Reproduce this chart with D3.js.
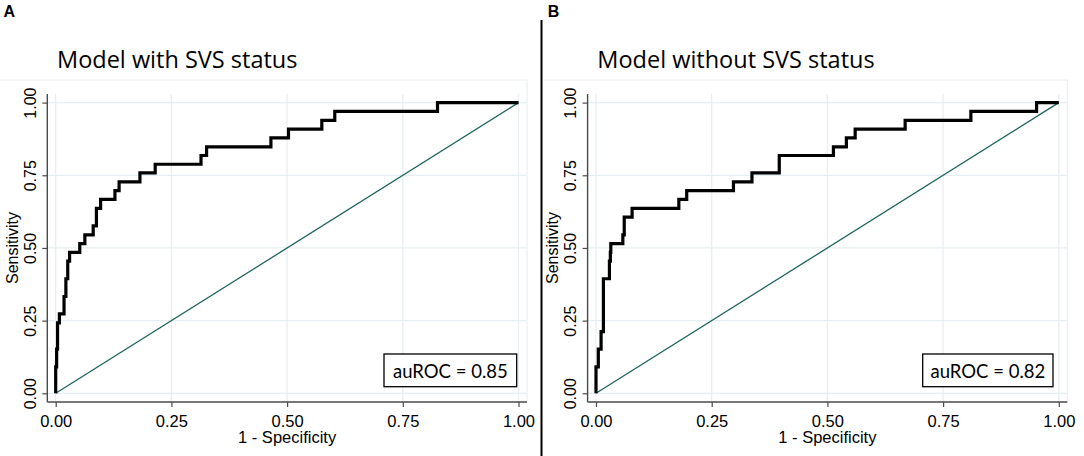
<!DOCTYPE html>
<html>
<head>
<meta charset="utf-8">
<script src="https://cdn.jsdelivr.net/npm/d3@7"></script>
<style>
  html, body { margin: 0; padding: 0; background: #fff; }
  svg { display: block; }
</style>
</head>
<body>
<svg id="chart" width="1084" height="456"></svg>
<script>
// ---- Data ----
const panelLetters = ["A", "B"];
const panelTitles = ["Model with SVS status", "Model without SVS status"];
const aucLabels = ["auROC = 0.85", "auROC = 0.82"];
const tickValues = [0, 0.25, 0.5, 0.75, 1];
const tickLabels = ["0.00", "0.25", "0.50", "0.75", "1.00"];
const xAxisTitle = "1 - Specificity";
const yAxisTitle = "Sensitivity";

// ROC corner points (1 - specificity, sensitivity), drawn as steps
const rocA_fpr = [0, 0, 0.002, 0.004, 0.008, 0.018, 0.022, 0.026, 0.030, 0.052, 0.063, 0.081, 0.088, 0.097, 0.128, 0.137, 0.182, 0.215, 0.314, 0.326, 0.465, 0.503, 0.575, 0.603, 0.825, 1];
const rocA_tpr = [0, 0.091, 0.152, 0.242, 0.273, 0.333, 0.394, 0.455, 0.485, 0.515, 0.545, 0.576, 0.636, 0.667, 0.697, 0.727, 0.758, 0.788, 0.818, 0.848, 0.879, 0.909, 0.939, 0.970, 1, 1];
const rocB_fpr = [0, 0, 0.005, 0.011, 0.016, 0.029, 0.031, 0.032, 0.058, 0.061, 0.078, 0.179, 0.196, 0.297, 0.337, 0.396, 0.513, 0.541, 0.560, 0.668, 0.810, 0.952, 1];
const rocB_tpr = [0, 0.091, 0.152, 0.212, 0.394, 0.455, 0.485, 0.515, 0.545, 0.606, 0.636, 0.667, 0.697, 0.727, 0.758, 0.818, 0.848, 0.879, 0.909, 0.939, 0.970, 1, 1];
const refLine = [[0, 0], [1, 1]];

const rocSeries = [
  rocA_fpr.map((f, i) => [f, rocA_tpr[i]]),
  rocB_fpr.map((f, i) => [f, rocB_tpr[i]])
];

// ---- Layout ----
const svg = d3.select("#chart");
const panelOffsets = [0, 540.3];
const gridColor = "#e6eef1";
const axisColor = "#4a4a4a";
const sansFont = "'Liberation Sans', Arial, sans-serif";
const titleFont = "'Open Sans', Lato, sans-serif";
const boxFont = "Lato, 'Open Sans', sans-serif";

panelLetters.forEach((letter, p) => {
  const g = svg.append("g").attr("transform", `translate(${panelOffsets[p]},0)`);
  const x = d3.scaleLinear().domain([0, 1]).range([55.7, 518.5]);
  const y = d3.scaleLinear().domain([0, 1]).range([393.3, 102.6]);
  const axisX = 47.3, axisY = 402;
  const regionLeft = p === 0 ? 0 : 4, regionRight = 527, regionTop = 80;

  // panel letter
  g.append("text").attr("x", p === 0 ? 3.5 : 7.5).attr("y", 17)
    .attr("font-family", sansFont).attr("font-weight", "bold").attr("font-size", 16)
    .attr("fill", "#000").text(letter);

  // title
  g.append("text").attr("x", 57).attr("y", 67.5)
    .attr("font-family", titleFont).attr("font-size", 23.5).attr("fill", "#000")
    .text(panelTitles[p]);

  // plot region border (top & right)
  g.append("line").attr("x1", regionLeft).attr("x2", regionRight).attr("y1", regionTop).attr("y2", regionTop)
    .attr("stroke", gridColor).attr("stroke-width", 1);
  g.append("line").attr("x1", regionRight).attr("x2", regionRight).attr("y1", regionTop).attr("y2", axisY)
    .attr("stroke", gridColor).attr("stroke-width", 1);

  // grid
  g.append("g").selectAll("line.gx").data(tickValues).join("line")
    .attr("x1", d => x(d)).attr("x2", d => x(d)).attr("y1", 94).attr("y2", axisY)
    .attr("stroke", gridColor).attr("stroke-width", 1.2);
  g.append("g").selectAll("line.gy").data(tickValues).join("line")
    .attr("x1", axisX).attr("x2", regionRight).attr("y1", d => y(d)).attr("y2", d => y(d))
    .attr("stroke", gridColor).attr("stroke-width", 1.2);

  // axes
  const xAxis = d3.axisBottom(x).tickValues(tickValues).tickFormat((d, i) => tickLabels[i])
    .tickSize(5).tickSizeOuter(0);
  const gx = g.append("g").attr("transform", `translate(0,${axisY})`).call(xAxis);
  gx.select(".domain").remove();
  gx.attr("font-size", null).attr("font-family", null);
  gx.selectAll(".tick line").attr("stroke", axisColor).attr("stroke-width", 1.2);
  gx.selectAll(".tick text").attr("font-family", sansFont).attr("font-size", 16.5)
    .attr("fill", "#000").attr("dy", null).attr("y", 24.5);
  g.append("line").attr("x1", axisX).attr("x2", regionRight).attr("y1", axisY).attr("y2", axisY)
    .attr("stroke", axisColor).attr("stroke-width", 1.4);

  const yAxis = d3.axisLeft(y).tickValues(tickValues).tickFormat((d, i) => tickLabels[i])
    .tickSize(5).tickSizeOuter(0);
  const gy = g.append("g").attr("transform", `translate(${axisX},0)`).call(yAxis);
  gy.select(".domain").remove();
  gy.attr("font-size", null).attr("font-family", null);
  gy.selectAll(".tick line").attr("stroke", axisColor).attr("stroke-width", 1.2);
  gy.selectAll(".tick text").attr("font-family", sansFont).attr("font-size", 16)
    .attr("fill", "#000").attr("x", null).attr("dy", null)
    .attr("text-anchor", "middle")
    .attr("transform", "translate(-11.5,0) rotate(-90)");
  g.append("line").attr("x1", axisX).attr("x2", axisX).attr("y1", 94).attr("y2", axisY)
    .attr("stroke", axisColor).attr("stroke-width", 1.4);

  // axis titles
  g.append("text").attr("x", x(0.5)).attr("y", 442.5).attr("text-anchor", "middle")
    .attr("font-family", sansFont).attr("font-size", 16.5).attr("fill", "#000").text(xAxisTitle);
  g.append("text").attr("transform", `translate(17.5,${y(0.5)}) rotate(-90)`).attr("text-anchor", "middle")
    .attr("font-family", sansFont).attr("font-size", 16).attr("fill", "#000").text(yAxisTitle);

  // reference diagonal
  g.append("path").datum(refLine)
    .attr("d", d3.line().x(d => x(d[0])).y(d => y(d[1])))
    .attr("fill", "none").attr("stroke", "#1e645c").attr("stroke-width", 1.3);

  // ROC step curve
  g.append("path").datum(rocSeries[p])
    .attr("d", d3.line().x(d => x(d[0])).y(d => y(d[1])).curve(d3.curveStepAfter))
    .attr("fill", "none").attr("stroke", "#000").attr("stroke-width", 3.2)
    .attr("stroke-linejoin", "miter");

  // auROC box
  const boxW = p === 0 ? 132.7 : 130.3;
  const boxX = p === 0 ? 384 : 382.4;
  g.append("rect").attr("x", boxX).attr("y", 354).attr("width", boxW).attr("height", 32.7)
    .attr("fill", "#fff").attr("stroke", "#000").attr("stroke-width", 1.3);
  g.append("text").attr("x", boxX + boxW / 2).attr("y", 377.5).attr("text-anchor", "middle")
    .attr("font-family", boxFont).attr("font-size", 18.5).attr("fill", "#000").text(aucLabels[p]);
});

// divider between panels
svg.append("line").attr("x1", 541.5).attr("x2", 541.5).attr("y1", 20).attr("y2", 456)
  .attr("stroke", "#000").attr("stroke-width", 2);
</script>
</body>
</html>
